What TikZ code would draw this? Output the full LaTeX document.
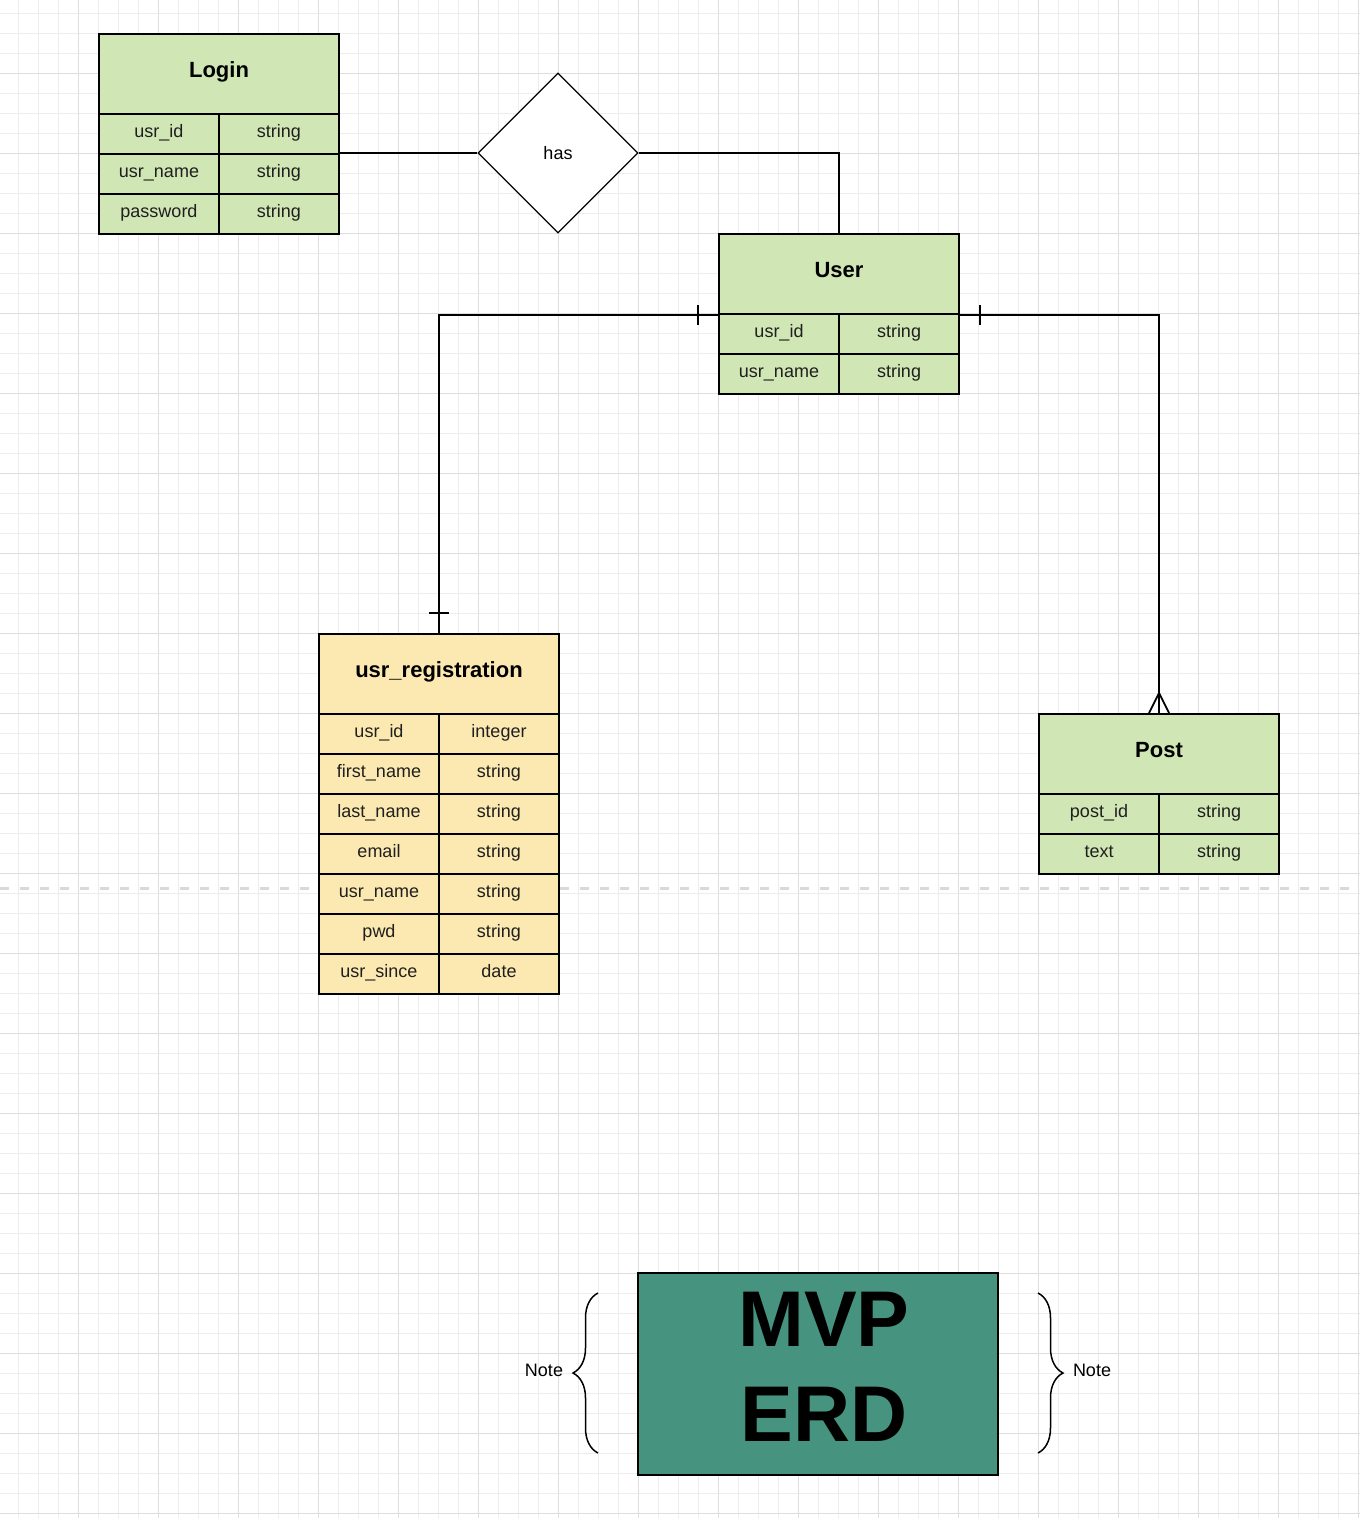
\documentclass[tikz,border=0pt]{standalone}
\usepackage{fontspec}
\setmainfont{Liberation Sans}
\usepackage{xcolor}
\usepackage{tikz}
\usetikzlibrary{shapes.geometric, decorations.pathreplacing, calc}

\definecolor{erdgreen}{HTML}{D0E6B4}
\definecolor{erdyellow}{HTML}{FCE9B2}
\definecolor{erdteal}{HTML}{46947F}

\begin{document}
\begin{tikzpicture}[x=1pt, y=-1pt,
    entity/.style={draw, line width=2pt, minimum width=240pt, minimum height=80pt, inner sep=0pt, anchor=north west,
        font=\fontsize{22}{26}\selectfont\bfseries, text height=15pt, text depth=9pt},
    attr/.style={draw, line width=2pt, minimum width=120pt, minimum height=40pt, inner sep=0pt, anchor=north west,
        font=\fontsize{18}{21}\selectfont, text=black!88, text height=12pt, text depth=6pt},
    link/.style={line width=1.8pt},
    notebrace/.style={line width=1.5pt, decorate, decoration={brace, amplitude=25pt, aspect=0.5}}]
    % Page
    \useasboundingbox (0,0) rectangle (1360,1518);
    \fill[white] (0,0) rectangle (1360,1518);
    % Grid
    \foreach \x in {-2,18,...,1358} \draw[black!7, line width=0.8pt] (\x,0) -- (\x,1518);
    \foreach \y in {13,33,...,1513} \draw[black!7, line width=0.8pt] (0,\y) -- (1360,\y);
    \foreach \x in {78,158,...,1358} \draw[black!13, line width=0.8pt] (\x,0) -- (\x,1518);
    \foreach \y in {73,153,...,1513} \draw[black!13, line width=0.8pt] (0,\y) -- (1360,\y);
    % Page break
    \draw[black!15, line width=3pt, dash pattern=on 9pt off 11pt] (0,888) -- (1360,888);
    % Login
    \node[entity, fill=erdgreen] (login) at (98,33) {Login};
    \node[attr, fill=erdgreen] (login-n1) at (98,113) {usr\_id};
    \node[attr, fill=erdgreen] (login-t1) at (218,113) {string};
    \node[attr, fill=erdgreen] (login-n2) at (98,153) {usr\_name};
    \node[attr, fill=erdgreen] (login-t2) at (218,153) {string};
    \node[attr, fill=erdgreen] (login-n3) at (98,193) {password};
    \node[attr, fill=erdgreen] (login-t3) at (218,193) {string};
    % Relation
    \node[diamond, draw, fill=white, line width=1.2pt, minimum width=160pt, minimum height=160pt, inner sep=0pt,
        font=\fontsize{18}{21}\selectfont] (has) at (558,153) {has};
    % User
    \node[entity, fill=erdgreen] (user) at (718,233) {User};
    \node[attr, fill=erdgreen] (user-n1) at (718,313) {usr\_id};
    \node[attr, fill=erdgreen] (user-t1) at (838,313) {string};
    \node[attr, fill=erdgreen] (user-n2) at (718,353) {usr\_name};
    \node[attr, fill=erdgreen] (user-t2) at (838,353) {string};
    % usr_registration
    \node[entity, fill=erdyellow] (reg) at (318,633) {usr\_registration};
    \node[attr, fill=erdyellow] (reg-n1) at (318,713) {usr\_id};
    \node[attr, fill=erdyellow] (reg-t1) at (438,713) {integer};
    \node[attr, fill=erdyellow] (reg-n2) at (318,753) {first\_name};
    \node[attr, fill=erdyellow] (reg-t2) at (438,753) {string};
    \node[attr, fill=erdyellow] (reg-n3) at (318,793) {last\_name};
    \node[attr, fill=erdyellow] (reg-t3) at (438,793) {string};
    \node[attr, fill=erdyellow] (reg-n4) at (318,833) {email};
    \node[attr, fill=erdyellow] (reg-t4) at (438,833) {string};
    \node[attr, fill=erdyellow] (reg-n5) at (318,873) {usr\_name};
    \node[attr, fill=erdyellow] (reg-t5) at (438,873) {string};
    \node[attr, fill=erdyellow] (reg-n6) at (318,913) {pwd};
    \node[attr, fill=erdyellow] (reg-t6) at (438,913) {string};
    \node[attr, fill=erdyellow] (reg-n7) at (318,953) {usr\_since};
    \node[attr, fill=erdyellow] (reg-t7) at (438,953) {date};
    % Post
    \node[entity, fill=erdgreen] (post) at (1038,713) {Post};
    \node[attr, fill=erdgreen] (post-n1) at (1038,793) {post\_id};
    \node[attr, fill=erdgreen] (post-t1) at (1158,793) {string};
    \node[attr, fill=erdgreen] (post-n2) at (1038,833) {text};
    \node[attr, fill=erdgreen] (post-t2) at (1158,833) {string};
    % Connectors
    \draw[link] (login-t2.north east) -- (has.west);
    \draw[link] (has.east) -| (user.north);
    \draw[link] (user.south west) -| (reg.north);
    \draw[link] ($(user.south west)+(-20,-10)$) -- ++(0,20);
    \draw[link] ($(reg.north)+(-10,-20)$) -- ++(20,0);
    \draw[link] (user.south east) -| (post.north);
    \draw[link] ($(user.south east)+(20,-10)$) -- ++(0,20);
    \draw[link] ($(post.north)+(-10,0)$) -- ($(post.north)+(0,-20)$) -- ($(post.north)+(10,0)$);
    % Title
    \node[draw, line width=2pt, fill=erdteal, minimum width=360pt, minimum height=202pt] (erd) at (818,1374) {};
    \node[align=center, font=\fontsize{79}{95}\selectfont\bfseries] (erd-title) at (824,1367) {MVP\\ERD};
    % Notes
    \draw[notebrace] (598,1453) -- (598,1293);
    \draw[notebrace] (1038,1293) -- (1038,1453);
    \node[font=\fontsize{18}{21}\selectfont] (note-l) at (544,1370) {Note};
    \node[font=\fontsize{18}{21}\selectfont] (note-r) at (1092,1370) {Note};
\end{tikzpicture}
\end{document}
